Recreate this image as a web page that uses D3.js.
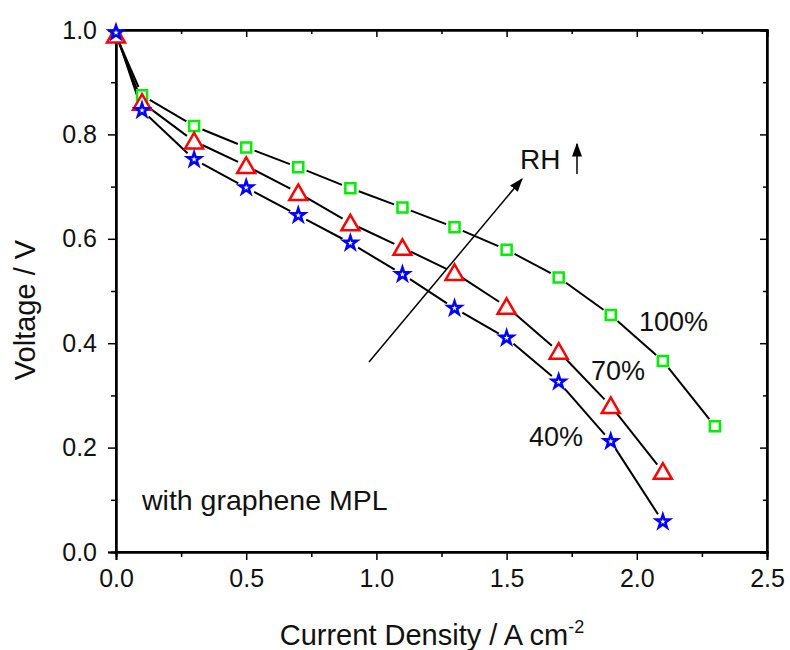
<!DOCTYPE html>
<html>
<head>
<meta charset="UTF-8">
<script src="https://cdnjs.cloudflare.com/ajax/libs/d3/7.8.5/d3.min.js"></script>
<style>
  body { margin: 0; background: #fff; }
  text { font-family: Arial, 'Liberation Sans', sans-serif; fill: #111; }
</style>
</head>
<body>
<svg id="chart" width="790" height="650"></svg>
<script>
// current density (A cm-2)
var current = [0, 0.1, 0.3, 0.5, 0.7, 0.9, 1.1, 1.3, 1.5, 1.7, 1.9, 2.1, 2.3];
// voltages for each relative humidity
var rh100 = [0.99, 0.875, 0.816, 0.775, 0.737, 0.697, 0.660, 0.622, 0.579, 0.526, 0.454, 0.366, 0.241];
var rh70 = [0.99, 0.861, 0.787, 0.740, 0.688, 0.630, 0.583, 0.535, 0.470, 0.384, 0.280, 0.154];
var rh40 = [0.995, 0.846, 0.752, 0.698, 0.645, 0.592, 0.532, 0.467, 0.410, 0.326, 0.212, 0.058];
var xTicks = [0, 0.5, 1.0, 1.5, 2.0, 2.5];
var yTicks = [0, 0.2, 0.4, 0.6, 0.8, 1.0];

var svg = d3.select("#chart");
var x = d3.scaleLinear().domain([0, 2.5]).range([116, 767]);
var y = d3.scaleLinear().domain([0, 1.0]).range([552, 30]);

// frame
svg.append("rect").attr("x", 116).attr("y", 30).attr("width", 651).attr("height", 522)
  .attr("fill", "none").attr("stroke", "#000").attr("stroke-width", 2);

// bottom axis
svg.append("g").attr("transform", "translate(0,552)")
  .call(d3.axisBottom(x).tickValues(xTicks).tickFormat(d3.format(".1f")).tickSizeOuter(0).tickSize(8).tickPadding(9));
svg.append("g").attr("transform", "translate(0,552)")
  .call(d3.axisBottom(x).tickValues(d3.range(0.25, 2.5, 0.5)).tickFormat("").tickSizeOuter(0).tickSize(5));
// left axis
svg.append("g").attr("transform", "translate(116,0)")
  .call(d3.axisLeft(y).tickValues(yTicks).tickFormat(d3.format(".1f")).tickSizeOuter(0).tickSize(8).tickPadding(11));
svg.append("g").attr("transform", "translate(116,0)")
  .call(d3.axisLeft(y).tickValues(d3.range(0.1, 1.0, 0.2)).tickFormat("").tickSizeOuter(0).tickSize(5));
// top & right inward ticks
svg.append("g").attr("transform", "translate(0,30)")
  .call(d3.axisBottom(x).tickValues(xTicks).tickFormat("").tickSizeOuter(0).tickSize(7));
svg.append("g").attr("transform", "translate(0,30)")
  .call(d3.axisBottom(x).tickValues(d3.range(0.25, 2.5, 0.5)).tickFormat("").tickSizeOuter(0).tickSize(4));
svg.append("g").attr("transform", "translate(767,0)")
  .call(d3.axisLeft(y).tickValues(yTicks).tickFormat("").tickSizeOuter(0).tickSize(7));
svg.append("g").attr("transform", "translate(767,0)")
  .call(d3.axisLeft(y).tickValues(d3.range(0.1, 1.0, 0.2)).tickFormat("").tickSizeOuter(0).tickSize(4));

svg.selectAll(".domain").attr("stroke", "#000").attr("stroke-width", 2);
svg.selectAll(".tick line").attr("stroke", "#000").attr("stroke-width", 1.5);
svg.selectAll(".tick text").style("font-size", "25px").style("font-family", "Arial, 'Liberation Sans', sans-serif").attr("fill", "#111");

// axis titles
svg.append("text").attr("x", 432).attr("y", 645).attr("text-anchor", "middle").style("font-size", "29px")
  .html('Current Density / A cm<tspan dy="-12" font-size="18">-2</tspan>');
svg.append("text").attr("transform", "translate(35,310) rotate(-90)").attr("text-anchor", "middle")
  .style("font-size", "29px").text("Voltage / V");

// series
var series = [
  { vals: rh100, color: "#00ee00", shape: "square" },
  { vals: rh70, color: "#ff0000", shape: "triangle" },
  { vals: rh40, color: "#0000ff", shape: "star" }
];

var gap = 9;
series.forEach(function (s) {
  var pts = s.vals.map(function (v, i) { return [x(current[i]), y(v)]; });
  for (var i = 0; i < pts.length - 1; i++) {
    var a = pts[i], b = pts[i + 1];
    var dx = b[0] - a[0], dy = b[1] - a[1];
    var len = Math.sqrt(dx * dx + dy * dy);
    var g0 = i === 0 ? 2 : gap;
    if (len <= g0 + gap) continue;
    svg.append("line")
      .attr("x1", a[0] + dx / len * g0).attr("y1", a[1] + dy / len * g0)
      .attr("x2", b[0] - dx / len * gap).attr("y2", b[1] - dy / len * gap)
      .attr("stroke", "#000").attr("stroke-width", 2);
  }
});

series.forEach(function (s) {
  var symType = s.shape === "square" ? d3.symbolSquare : s.shape === "triangle" ? d3.symbolTriangle : d3.symbolStar;
  var size = s.shape === "square" ? 100 : s.shape === "triangle" ? 140 : 55;
  svg.selectAll(null).data(s.vals).enter().append("path")
    .attr("d", d3.symbol().type(symType).size(size))
    .attr("transform", function (d, i) {
      var dyOff = s.shape === "triangle" ? 2 : 0;
      return "translate(" + x(current[i]) + "," + (y(d) + dyOff) + ")";
    })
    .attr("fill", "#fff").attr("stroke", s.color).attr("stroke-width", 2.5);
});

// arrows
svg.append("defs").append("marker").attr("id", "head").attr("viewBox", "0 0 10 10")
  .attr("refX", 9).attr("refY", 5).attr("markerWidth", 14).attr("markerHeight", 10)
  .attr("markerUnits", "userSpaceOnUse").attr("orient", "auto").attr("preserveAspectRatio", "none")
  .append("path").attr("d", "M0,0 L10,5 L0,10 z").attr("fill", "#000");

svg.append("line").attr("x1", 369).attr("y1", 362).attr("x2", 522).attr("y2", 179)
  .attr("stroke", "#000").attr("stroke-width", 1.5).attr("marker-end", "url(#head)");
svg.append("line").attr("x1", 577).attr("y1", 174).attr("x2", 577).attr("y2", 144)
  .attr("stroke", "#000").attr("stroke-width", 1.5).attr("marker-end", "url(#head)");

// labels
svg.append("text").attr("x", 520).attr("y", 169).style("font-size", "28px").text("RH");
svg.append("text").attr("x", 639).attr("y", 331).style("font-size", "27px").text("100%");
svg.append("text").attr("x", 591).attr("y", 380).style("font-size", "27px").text("70%");
svg.append("text").attr("x", 529).attr("y", 446).style("font-size", "27px").text("40%");
svg.append("text").attr("x", 142).attr("y", 510).style("font-size", "28.5px").text("with graphene MPL");
</script>
</body>
</html>
